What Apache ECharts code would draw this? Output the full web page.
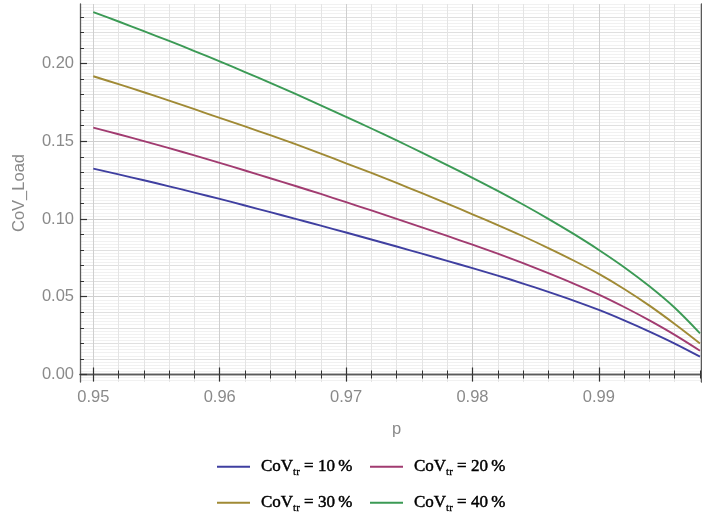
<!DOCTYPE html>
<html>
<head>
<meta charset="utf-8">
<script src="https://cdn.jsdelivr.net/npm/echarts@6/dist/echarts.min.js"></script>
<style>html,body{margin:0;padding:0;background:#fff;}#chart{width:702px;height:518px;}</style>
</head>
<body>
<div id="chart"></div>
<script>
// ---- data ----
const pValues = [0.950,0.952,0.954,0.956,0.958,0.960,0.962,0.964,0.966,0.968,0.970,0.972,0.974,0.976,0.978,0.980,0.982,0.984,0.986,0.988,0.990,0.992,0.994,0.996,0.998];
const cov10 = [0.1324,0.1287,0.1249,0.1210,0.1170,0.1129,0.1087,0.1044,0.1001,0.0957,0.0913,0.0868,0.0823,0.0777,0.0731,0.0684,0.0636,0.0585,0.0531,0.0475,0.0415,0.0348,0.0276,0.0199,0.0115];
const cov20 = [0.1588,0.1545,0.1501,0.1456,0.1409,0.1361,0.1312,0.1262,0.1212,0.1161,0.1108,0.1055,0.1001,0.0946,0.0891,0.0835,0.0777,0.0716,0.0652,0.0585,0.0514,0.0434,0.0348,0.0255,0.0153];
const cov30 = [0.1918,0.1867,0.1815,0.1761,0.1706,0.1650,0.1595,0.1539,0.1481,0.1421,0.1358,0.1296,0.1232,0.1166,0.1099,0.1030,0.0961,0.0889,0.0813,0.0733,0.0647,0.0550,0.0443,0.0325,0.0200];
const cov40 = [0.2330,0.2270,0.2208,0.2145,0.2080,0.2013,0.1945,0.1875,0.1804,0.1731,0.1657,0.1582,0.1505,0.1427,0.1347,0.1265,0.1181,0.1093,0.1001,0.0904,0.0801,0.0690,0.0567,0.0429,0.0265];
const seriesLabels = ['10 %','20 %','30 %','40 %'];
const seriesColors = ['#3f3fa0','#a13b70','#a08a35','#3b9a55'];

// ---- ticks ----
const xMajorTicks = [0.95,0.96,0.97,0.98,0.99];
const yMajorTicks = [0.00,0.05,0.10,0.15,0.20];
const xMinorTicks = [];
for (let i = 475; i <= 499; i++) { if (i % 5 !== 0) xMinorTicks.push(i / 500); }
const yMidTicks = [];
for (let i = 0; i <= 23; i++) { if (i % 5 !== 0) yMidTicks.push(i / 100); }
const yFineLines = [];
for (let i = -2; i <= 119; i++) { if (i % 5 !== 0) yFineLines.push(i / 500); }

const xMin = 0.948948, xMax = 0.998079;
const yMin = -0.004823, yMax = 0.23826;

const labelFont = { color: '#8a8a8a', fontFamily: 'Liberation Sans, Arial, sans-serif', fontSize: 16.5 };
const frameColor = '#5a5a5a';
const tickColor = '#333';

function xAx(extra) {
  return Object.assign({
    type: 'value', min: xMin, max: xMax, position: 'bottom',
    axisLine: { show: false }, axisLabel: { show: false }, axisTick: { show: false },
    splitLine: { show: false }
  }, extra);
}
function yAx(extra) {
  return Object.assign({
    type: 'value', min: yMin, max: yMax, position: 'left',
    axisLine: { show: false }, axisLabel: { show: false }, axisTick: { show: false },
    splitLine: { show: false }
  }, extra);
}

const xAxes = [
  xAx({ axisTick: { show: true, inside: true, length: 4, customValues: xMinorTicks, lineStyle: { color: tickColor, width: 1 } },
        splitLine: { show: true, lineStyle: { color: '#e4e4e4', width: 1 } } }),
  xAx({ position: 'top', axisTick: { show: true, inside: true, length: 4, customValues: xMinorTicks, lineStyle: { color: tickColor, width: 1 } } }),
  xAx({ position: 'top', axisLine: { show: true, lineStyle: { color: frameColor, width: 1.3 } },
        axisTick: { show: true, inside: true, length: 7, customValues: xMajorTicks, lineStyle: { color: tickColor, width: 1.2 } } }),
  xAx({ name: 'p', nameLocation: 'middle', nameGap: 39,
        nameTextStyle: Object.assign({}, labelFont, { padding: [0, 0, 0, 12] }),
        axisLine: { show: true, lineStyle: { color: frameColor, width: 1.3 } },
        axisTick: { show: true, inside: true, length: 7, customValues: xMajorTicks, lineStyle: { color: tickColor, width: 1.2 } },
        axisLabel: Object.assign({ show: true, margin: 7, customValues: xMajorTicks, formatter: v => v.toFixed(2) }, labelFont),
        splitLine: { show: true, lineStyle: { color: '#cfcfcf', width: 1 } } })
];

const yAxes = [
  yAx({ axisTick: { show: false, customValues: yFineLines }, splitLine: { show: true, lineStyle: { color: '#f1f1f1', width: 1 } } }),
  yAx({ axisTick: { show: true, inside: true, length: 4, customValues: yMidTicks, lineStyle: { color: tickColor, width: 1 } },
        splitLine: { show: true, lineStyle: { color: '#e0e0e0', width: 1 } } }),
  yAx({ position: 'right', axisLine: { show: true, lineStyle: { color: frameColor, width: 1.3 } } }),
  yAx({ name: 'CoV_Load', nameLocation: 'middle', nameGap: 52, nameRotate: 90,
        nameTextStyle: Object.assign({}, labelFont),
        axisLine: { show: true, lineStyle: { color: frameColor, width: 1.3 } },
        axisTick: { show: true, inside: true, length: 7, customValues: yMajorTicks, lineStyle: { color: tickColor, width: 1.2 } },
        axisLabel: Object.assign({ show: true, margin: 6, customValues: yMajorTicks, formatter: v => v.toFixed(2) }, labelFont),
        splitLine: { show: true, lineStyle: { color: '#cfcfcf', width: 1 } } })
];

const seriesData = [cov10, cov20, cov30, cov40];
const names = seriesLabels.map(s => 'CoV_tr = ' + s);
const series = seriesData.map((d, i) => ({
  name: names[i], type: 'line', xAxisIndex: 3, yAxisIndex: 3,
  data: d.map((v, j) => [pValues[j], v]),
  symbol: 'none', smooth: 0.3, silent: true,
  lineStyle: { color: seriesColors[i], width: 1.9 },
  itemStyle: { color: seriesColors[i] }
}));

const richText = {
  a: { fontFamily: 'Liberation Serif, Times New Roman, serif', fontSize: 17, color: '#000', lineHeight: 22, textBorderColor: '#000', textBorderWidth: 0.45 },
  s: { fontFamily: 'Liberation Serif, Times New Roman, serif', fontSize: 11, color: '#000', lineHeight: 12, verticalAlign: 'bottom', textBorderColor: '#000', textBorderWidth: 0.3 }
};
const legendPos = [[216, 458], [369, 458], [216, 494], [369, 494]];
const legends = names.map((n, i) => ({
  data: [n], left: legendPos[i][0], top: legendPos[i][1], padding: 0,
  itemWidth: 33, itemHeight: 14, itemGap: 0, selectedMode: false,
  itemStyle: { opacity: 0 },
  formatter: name => '{a|CoV}{s|tr}{a| = ' + seriesLabels[names.indexOf(name)].replace(' %', '\u2009%') + '}',
  textStyle: { rich: richText, padding: [0, 0, 0, 6] }
}));

const chart = echarts.init(document.getElementById('chart'), null, { renderer: 'canvas' });
chart.setOption({
  backgroundColor: '#fff',
  animation: false,
  grid: { left: 80, right: 1, top: 4, bottom: 136, containLabel: false },
  xAxis: xAxes,
  yAxis: yAxes,
  legend: legends,
  series: series
});
</script>
</body>
</html>
